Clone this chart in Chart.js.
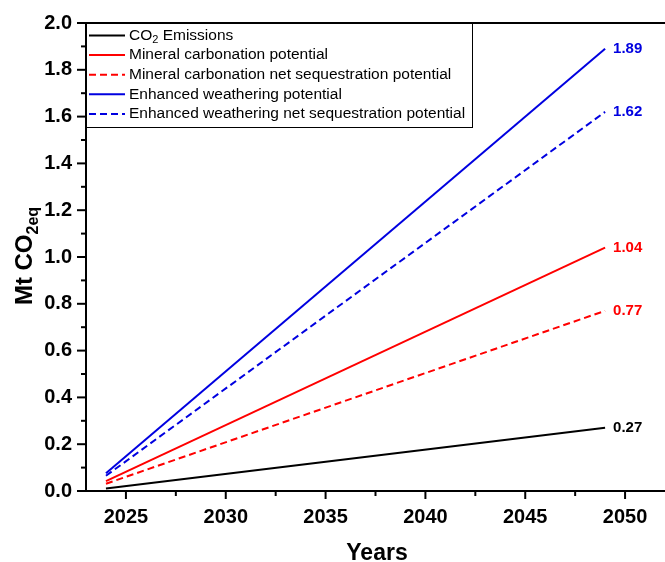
<!DOCTYPE html>
<html>
<head>
<meta charset="utf-8">
<script src="https://cdn.jsdelivr.net/npm/chart.js@4.4.0/dist/chart.umd.min.js"></script>
<style>
  html, body { margin: 0; padding: 0; background: #fff; }
  #wrap { width: 665px; height: 562px; position: relative; }
</style>
</head>
<body>
<div id="wrap"><canvas id="lineChart"></canvas></div>
<script>
const years = [2024, 2049];
const emissions = [0.011, 0.27];
const mineralPotential = [0.042, 1.04];
const mineralNet = [0.031, 0.77];
const weatheringPotential = [0.076, 1.89];
const weatheringNet = [0.065, 1.62];
const xTicks = [2025, 2030, 2035, 2040, 2045, 2050];
const endLabels = ['0.27', '1.04', '0.77', '1.89', '1.62'];

const RED = '#ff0000';
const BLUE = '#0000e0';
const FONT = 'Arial, "Liberation Sans", sans-serif';

function pts(vals) {
  return years.map((y, i) => ({ x: y, y: vals[i] }));
}

const series = [
  { label: 'CO2 Emissions', data: emissions, color: '#000000', dash: [] },
  { label: 'Mineral carbonation potential', data: mineralPotential, color: RED, dash: [] },
  { label: 'Mineral carbonation net sequestration potential', data: mineralNet, color: RED, dash: [7, 4] },
  { label: 'Enhanced weathering potential', data: weatheringPotential, color: BLUE, dash: [] },
  { label: 'Enhanced weathering net sequestration potential', data: weatheringNet, color: BLUE, dash: [7, 4] }
];

// ticks, frame, titles, legend and end labels
const decorations = {
  id: 'decorations',
  afterDraw(chart) {
    const c = chart.ctx;
    const area = chart.chartArea;
    const xs = chart.scales.x, ys = chart.scales.y;
    c.save();
    c.strokeStyle = '#000';
    c.lineWidth = 2;

    // top frame line
    c.beginPath();
    c.moveTo(area.left, area.top);
    c.lineTo(area.right, area.top);
    c.stroke();

    // y ticks
    for (let i = 0; i <= 20; i++) {
      const py = ys.getPixelForValue(i / 10);
      const len = i % 2 === 0 ? 9 : 5;
      c.beginPath();
      c.moveTo(area.left - len, py);
      c.lineTo(area.left, py);
      c.stroke();
    }
    // x ticks
    for (let v = 2025; v <= 2052; v += 2.5) {
      const px = xs.getPixelForValue(v);
      const len = v % 5 === 0 ? 8 : 5;
      c.beginPath();
      c.moveTo(px, area.bottom);
      c.lineTo(px, area.bottom + len);
      c.stroke();
    }

    // end-of-line value labels
    c.font = 'bold 15px ' + FONT;
    c.textBaseline = 'middle';
    c.textAlign = 'left';
    chart.data.datasets.forEach((ds, i) => {
      const meta = chart.getDatasetMeta(i);
      const last = meta.data[meta.data.length - 1];
      c.fillStyle = ds.borderColor;
      c.fillText(endLabels[i], last.x + 8, last.y);
    });

    // x title
    c.fillStyle = '#000';
    c.font = 'bold 23px ' + FONT;
    c.textAlign = 'center';
    c.textBaseline = 'alphabetic';
    c.fillText('Years', 377, 560);

    // y title with subscript
    c.save();
    c.translate(32, 256);
    c.rotate(-Math.PI / 2);
    c.font = 'bold 24px ' + FONT;
    const main = 'Mt CO';
    const wMain = c.measureText(main).width;
    c.font = 'bold 16px ' + FONT;
    const wSub = c.measureText('2eq').width;
    const x0 = -(wMain + wSub) / 2;
    c.textAlign = 'left';
    c.font = 'bold 24px ' + FONT;
    c.fillText(main, x0, 0);
    c.font = 'bold 16px ' + FONT;
    c.fillText('2eq', x0 + wMain, 6);
    c.restore();

    // legend box
    const lx = area.left, ly = area.top, lw = 386, lh = 104;
    c.fillStyle = '#fff';
    c.fillRect(lx, ly, lw, lh);
    c.lineWidth = 1;
    c.strokeStyle = '#000';
    c.strokeRect(lx + 0.5, ly + 0.5, lw, lh);
    c.font = '15.5px ' + FONT;
    c.textBaseline = 'middle';
    c.textAlign = 'left';
    series.forEach((s, i) => {
      const ry = ly + 12.5 + i * 19.6;
      c.strokeStyle = s.color;
      c.lineWidth = 2;
      c.setLineDash(s.dash);
      c.beginPath();
      c.moveTo(lx + 3, ry);
      c.lineTo(lx + 39, ry);
      c.stroke();
      c.setLineDash([]);
      c.fillStyle = '#000';
      const tx = lx + 43;
      if (i === 0) {
        c.font = '15.5px ' + FONT;
        c.fillText('CO', tx, ry);
        const w1 = c.measureText('CO').width;
        c.font = '11px ' + FONT;
        c.fillText('2', tx + w1, ry + 4);
        const w2 = c.measureText('2').width;
        c.font = '15.5px ' + FONT;
        c.fillText(' Emissions', tx + w1 + w2, ry);
      } else {
        c.fillText(s.label, tx, ry);
      }
    });
    c.restore();
  }
};

const ctx = document.getElementById('lineChart').getContext('2d');
const lineChart = new Chart(ctx, {
  type: 'line',
  data: {
    datasets: series.map(s => ({
      label: s.label,
      data: pts(s.data),
      borderColor: s.color,
      backgroundColor: s.color,
      borderDash: s.dash,
      borderWidth: 2,
      pointRadius: 0,
      fill: false,
      tension: 0
    }))
  },
  options: {
    responsive: true,
    maintainAspectRatio: false,
    animation: false,
    layout: { padding: { top: 23, right: 0, left: 0, bottom: 0 } },
    plugins: {
      legend: { display: false },
      tooltip: { enabled: false }
    },
    scales: {
      x: {
        type: 'linear',
        min: 2023,
        max: 2052,
        afterBuildTicks: scale => { scale.ticks = xTicks.map(v => ({ value: v })); },
        afterFit: scale => { scale.height = 71; },
        grid: { display: false },
        border: { display: true, color: '#000', width: 2 },
        ticks: {
          color: '#000',
          padding: 6,
          maxRotation: 0,
          font: { family: FONT, size: 20, weight: 'bold' },
          callback: v => String(v)
        }
      },
      y: {
        min: 0,
        max: 2,
        afterFit: scale => { scale.width = 86; },
        grid: { display: false },
        border: { display: true, color: '#000', width: 2 },
        ticks: {
          stepSize: 0.2,
          color: '#000',
          padding: 6,
          font: { family: FONT, size: 20, weight: 'bold' },
          callback: v => v.toFixed(1)
        }
      }
    }
  },
  plugins: [decorations]
});
</script>
</body>
</html>
